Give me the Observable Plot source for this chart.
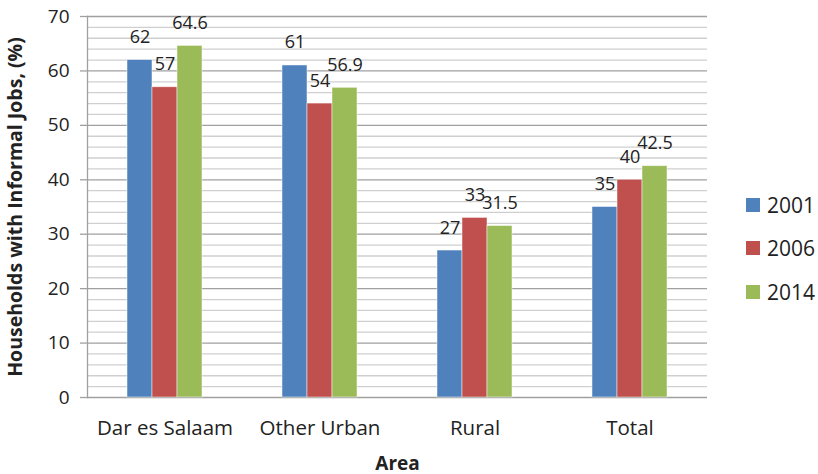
<!DOCTYPE html>
<html>
<head>
<meta charset="utf-8">
<script src="https://cdn.jsdelivr.net/npm/d3@7"></script>
<script src="https://cdn.jsdelivr.net/npm/@observablehq/plot@0.6"></script>
<style>
  html, body { margin: 0; padding: 0; background: #fff; }
  #wrap { position: relative; width: 818px; height: 474px; font-family: "Open Sans", sans-serif; }
  #wrap svg { font-family: "Open Sans", sans-serif; }
  g[aria-label$="axis label"] text, g[aria-label$="axis label"] { font-weight: bold; }
  #legend { position: absolute; left: 746px; top: 0; font-size: 21px; color: #222; }
  .li { position: absolute; left: 0; height: 20px; display: flex; align-items: center; white-space: nowrap; }
  .sw { width: 14px; height: 14px; margin-right: 7px; flex: none; }
</style>
</head>
<body>
<div id="wrap"></div>
<script>
const areas = ["Dar es Salaam", "Other Urban", "Rural", "Total"];
const years = ["2001", "2006", "2014"];
const v2001 = [62, 61, 27, 35];
const v2006 = [57, 54, 33, 40];
const v2014 = [64.6, 56.9, 31.5, 42.5];
const colors = ["#4F81BD", "#C0504D", "#9BBB59"];
const yMajorTicks = [0, 10, 20, 30, 40, 50, 60, 70];
const yMinorTicks = [2, 4, 6, 8, 12, 14, 16, 18, 22, 24, 26, 28, 32, 34, 36, 38, 42, 44, 46, 48, 52, 54, 56, 58, 62, 64, 66, 68];
const yTitle = "Households with Informal Jobs, (%)";
const xTitle = "Area";

const series = [v2001, v2006, v2014];
const data = areas.flatMap((a, i) => years.map((y, j) => ({area: a, year: y, value: series[j][i]})));

const chart = Plot.plot({
  width: 818,
  height: 474,
  marginLeft: 86,
  marginRight: 110,
  marginTop: 16,
  marginBottom: 77,
  style: {fontSize: "18px", color: "#222", fontFamily: "Open Sans, sans-serif"},
  fx: {domain: areas, padding: 0},
  x: {domain: years, paddingInner: 0, paddingOuter: 1.49, axis: null},
  y: {domain: [0, 70]},
  color: {domain: years, range: colors},
  marks: [
    Plot.ruleY(yMinorTicks, {stroke: "#cfcfcf", strokeWidth: 1.3}),
    Plot.ruleY(yMajorTicks, {stroke: "#a0a0a0", strokeWidth: 1.3}),
    Plot.frame({anchor: "left", facetAnchor: "left", stroke: "#a0a0a0", strokeWidth: 1.3}),
    Plot.axisY({ticks: yMajorTicks, tickSize: 7, tickPadding: 11, stroke: "#a0a0a0", strokeWidth: 1.3, fontSize: 19, label: null}),
    Plot.axisY({ticks: [], label: yTitle, labelAnchor: "center", labelArrow: "none", labelOffset: 79, fontSize: 19.5}),
    Plot.axisFx({anchor: "bottom", tickSize: 0, tickPadding: 23, fontSize: 20.5, label: null}),
    Plot.axisFx({anchor: "bottom", ticks: [], label: xTitle, labelAnchor: "center", labelArrow: "none", labelOffset: 72, fontSize: 19}),
    Plot.barY(data, {fx: "area", x: "year", y: "value", fill: "year", stroke: "white", strokeOpacity: 0.6, strokeWidth: 0.8}),
    Plot.text(data, {fx: "area", x: "year", y: "value", text: d => String(d.value), dy: -17, lineAnchor: "bottom", fontSize: 18, fill: "#222"})
  ]
});
document.getElementById("wrap").appendChild(chart);

const legend = document.createElement("div");
legend.id = "legend";
const legendTops = [195, 238, 282];
years.forEach((y, i) => {
  const item = document.createElement("div");
  item.className = "li";
  item.style.top = legendTops[i] + "px";
  item.innerHTML = `<span class="sw" style="background:${colors[i]}"></span><span>${y}</span>`;
  legend.appendChild(item);
});
document.getElementById("wrap").appendChild(legend);
</script>
</body>
</html>
